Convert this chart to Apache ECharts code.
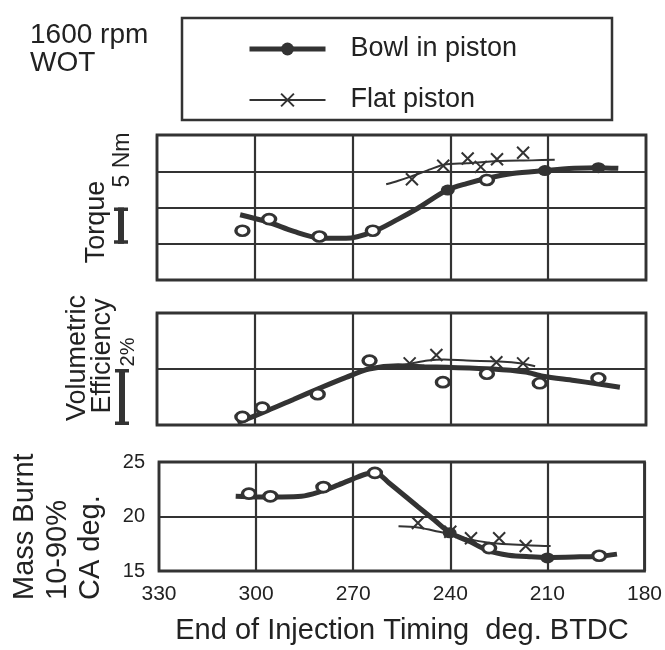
<!DOCTYPE html>
<html>
<head>
<meta charset="utf-8">
<script src="https://cdn.jsdelivr.net/npm/echarts@6/dist/echarts.min.js"></script>
<style>
  html, body { margin: 0; padding: 0; background: #ffffff; }
  #chart { width: 665px; height: 650px; }
</style>
</head>
<body>
<div id="chart"></div>
<script>
// ---------- data ----------
// x: End of injection timing, deg. BTDC
const xTicks = [330, 300, 270, 240, 210, 180];

// Torque panel (Nm, relative; one grid division = 5 Nm)
const torqueTicks = [0, 20];
const torqueBowlCurve = [[304.5, 9.0], [296, 8.0], [288, 6.7], [280, 5.8], [272, 5.75], [264, 6.6], [256, 8.4], [250, 9.9], [241, 12.4], [235, 13.3], [229, 14.0], [221, 14.7], [211, 15.1], [202, 15.4], [195, 15.5], [188.5, 15.4]];
const torqueBowlOpen = [[303.8, 6.8], [295.6, 8.4], [280.2, 6.0], [263.8, 6.8], [228.8, 13.8]];
const torqueBowlFilled = [[240.8, 12.4], [211, 15.1], [194.6, 15.5]];
const torqueFlatCurve = [[259.7, 13.2], [256, 13.7], [252, 14.3], [246, 15.3], [242, 15.9], [235, 16.1], [225, 16.4], [215, 16.5], [208, 16.6]];
const torqueFlatMarks = [[251.8, 13.9], [242.2, 15.75], [234.7, 16.75], [230.7, 15.6], [225.7, 16.65], [217.7, 17.55]];

// Volumetric efficiency panel (%, relative; one grid division = 2 %)
const veTicks = [0, 4];
const veBowlCurve = [[305.3, 0.08], [296, 0.52], [288, 0.92], [280, 1.32], [272, 1.7], [265, 2.0], [256, 2.12], [248, 2.08], [241, 2.06], [227, 2.0], [217, 1.89], [211.6, 1.74], [202, 1.59], [195, 1.47], [188, 1.35]];
const veBowlOpen = [[303.8, 0.29], [297.7, 0.62], [280.7, 1.1], [264.8, 2.3], [242.3, 1.53], [228.8, 1.83], [212.6, 1.49], [194.6, 1.67]];
const veFlatCurve = [[257, 2.1], [252, 2.2], [247, 2.3], [242, 2.34], [235, 2.3], [225, 2.27], [218, 2.2], [214, 2.1]];
const veFlatMarks = [[252.5, 2.2], [244.3, 2.5], [225.9, 2.24], [217.7, 2.2]];

// Mass burnt 10-90 %, CA deg.
const mbTicks = [15, 20, 25];
const mbBowlCurve = [[306.3, 21.85], [300, 21.8], [292, 21.8], [286, 21.85], [280, 22.3], [275, 22.85], [270, 23.45], [266, 23.9], [263, 24.0], [259, 23.1], [250, 20.9], [245, 19.7], [240, 18.5], [234, 17.7], [228.5, 16.9], [222, 16.45], [215, 16.3], [210, 16.25], [200, 16.3], [194, 16.35], [188.5, 16.55]];
const mbBowlOpen = [[302.2, 22.1], [295.6, 21.85], [279.2, 22.7], [263.3, 24.0], [228, 17.1], [194, 16.4]];
const mbBowlFilled = [[240.2, 18.5], [210, 16.2]];
const mbFlatCurve = [[256, 19.1], [250, 19.0], [245, 18.7], [240, 18.4], [234, 17.9], [228, 17.6], [222, 17.45], [215, 17.35], [209, 17.3]];
const mbFlatMarks = [[250, 19.4], [240, 18.6], [233.6, 18.0], [224.9, 18.0], [216.7, 17.3]];

// scale bars drawn beside panels (value span)
const torqueScaleBar = [5, 10];
const veScaleBar = [0, 2];

// ---------- styling ----------
const INK = '#333333';
const TXT = '#222222';
const FONT = "'Liberation Sans', Arial, sans-serif";
const X_PATH = 'path://M0,0L10,10M10,0L0,10';

const chart = echarts.init(document.getElementById('chart'), null, { renderer: 'canvas' });

const grids = [
  { left: 157, top: 135, width: 489, height: 145 },
  { left: 157, top: 313, width: 489, height: 112 },
  { left: 159, top: 462, width: 488, height: 109 }
];

function xAxisFor(i, showLabels) {
  return {
    type: 'value', gridIndex: i, inverse: true,
    min: Math.min(...xTicks), max: Math.max(...xTicks), interval: 30,
    axisLine: { show: false }, axisTick: { show: false },
    splitLine: { show: true, lineStyle: { color: INK, width: 2.2 } },
    axisLabel: showLabels ? {
      show: true, fontSize: 21, color: TXT, fontFamily: FONT, margin: 13
    } : { show: false }
  };
}
function yAxisFor(i, min, max, interval, showLabels) {
  return {
    type: 'value', gridIndex: i, min: min, max: max, interval: interval,
    axisLine: { show: false }, axisTick: { show: false },
    splitLine: { show: true, lineStyle: { color: INK, width: 2.2 } },
    axisLabel: showLabels ? {
      show: true, fontSize: 20, color: TXT, fontFamily: FONT, margin: 14,
      padding: [6, 0, 0, 0]
    } : { show: false }
  };
}

function bowlCurve(i, data) {
  return {
    name: 'Bowl in piston', type: 'line', xAxisIndex: i, yAxisIndex: i,
    data: data, smooth: 0.3, showSymbol: false,
    symbol: 'circle', symbolSize: [16, 11],
    itemStyle: { color: INK },
    lineStyle: { color: INK, width: 5 }, z: 3, silent: true
  };
}
function flatCurve(i, data) {
  return {
    name: 'Flat piston', type: 'line', xAxisIndex: i, yAxisIndex: i,
    data: data, smooth: 0.3, showSymbol: false,
    symbol: X_PATH, symbolSize: 12, symbolKeepAspect: true,
    itemStyle: { color: 'none', borderColor: INK, borderWidth: 2 },
    lineStyle: { color: INK, width: 2 }, z: 4, silent: true
  };
}
function openMarks(i, data) {
  return {
    name: 'bowl-open-' + i, type: 'scatter', xAxisIndex: i, yAxisIndex: i,
    data: data, symbol: 'circle', symbolSize: [13, 10],
    itemStyle: { color: '#ffffff', borderColor: INK, borderWidth: 3, opacity: 1 }, z: 5, silent: true
  };
}
function filledMarks(i, data) {
  return {
    name: 'bowl-filled-' + i, type: 'scatter', xAxisIndex: i, yAxisIndex: i,
    data: data, symbol: 'circle', symbolSize: [14, 11],
    itemStyle: { color: INK, opacity: 1 }, z: 5, silent: true
  };
}
function crossMarks(i, data) {
  return {
    name: 'flat-x-' + i, type: 'scatter', xAxisIndex: i, yAxisIndex: i,
    data: data, symbol: X_PATH, symbolSize: 12, symbolKeepAspect: true,
    itemStyle: { color: 'none', borderColor: INK, borderWidth: 2, opacity: 1 }, z: 6, silent: true
  };
}

chart.setOption({
  animation: false,
  backgroundColor: '#ffffff',
  grid: grids.map(g => Object.assign({ show: true, borderColor: INK, borderWidth: 2.8, backgroundColor: 'transparent' }, g)),
  xAxis: [xAxisFor(0, false), xAxisFor(1, false), xAxisFor(2, true)],
  yAxis: [
    yAxisFor(0, torqueTicks[0], torqueTicks[1], 5, false),
    yAxisFor(1, veTicks[0], veTicks[1], 2, false),
    yAxisFor(2, mbTicks[0], mbTicks[mbTicks.length - 1], 5, true)
  ],
  legend: {
    data: [
      { name: 'Bowl in piston', lineStyle: { width: 5, color: INK }, itemStyle: { color: INK } },
      { name: 'Flat piston', lineStyle: { width: 2, color: INK } }
    ],
    orient: 'vertical', left: 242, top: 28,
    itemWidth: 76, itemHeight: 16, itemGap: 19,
    selectedMode: false,
    textStyle: { fontSize: 27, color: TXT, fontFamily: FONT, lineHeight: 32, padding: [0, 0, 0, 20] }
  },
  series: [
    bowlCurve(0, torqueBowlCurve), flatCurve(0, torqueFlatCurve),
    openMarks(0, torqueBowlOpen), filledMarks(0, torqueBowlFilled), crossMarks(0, torqueFlatMarks),
    bowlCurve(1, veBowlCurve), flatCurve(1, veFlatCurve),
    openMarks(1, veBowlOpen), crossMarks(1, veFlatMarks),
    bowlCurve(2, mbBowlCurve), flatCurve(2, mbFlatCurve),
    openMarks(2, mbBowlOpen), filledMarks(2, mbBowlFilled), crossMarks(2, mbFlatMarks)
  ]
});

// ---------- annotations ----------
function txt(id, text, x, y, size, opts) {
  opts = opts || {};
  return {
    type: 'text', id: id, x: x, y: y, rotation: opts.rot || 0, silent: true,
    style: {
      text: text, fontSize: size, fontFamily: FONT, fill: TXT,
      align: opts.align || 'center', verticalAlign: 'middle',
      textAlign: opts.align || 'center', textVerticalAlign: 'middle'
    }
  };
}
function scaleBar(id, gridIndex, span, xPix) {
  const y1 = chart.convertToPixel({ gridIndex: gridIndex }, [300, span[0]])[1];
  const y2 = chart.convertToPixel({ gridIndex: gridIndex }, [300, span[1]])[1];
  const top = Math.min(y1, y2), bot = Math.max(y1, y2);
  return {
    type: 'group', id: id, silent: true,
    children: [
      { type: 'rect', shape: { x: xPix - 3, y: top, width: 6, height: bot - top }, style: { fill: INK } },
      { type: 'rect', shape: { x: xPix - 7, y: top, width: 14, height: 3.5 }, style: { fill: INK } },
      { type: 'rect', shape: { x: xPix - 7, y: bot - 3.5, width: 14, height: 3.5 }, style: { fill: INK } }
    ]
  };
}
const R = Math.PI / 2;
chart.setOption({
  graphic: [
    { type: 'rect', id: 'legendBox', shape: { x: 182, y: 18, width: 430, height: 102 },
      style: { fill: 'none', stroke: INK, lineWidth: 2.5 }, silent: true },
    txt('t1', '1600 rpm', 30, 35, 28, { align: 'left' }),
    txt('t2', 'WOT', 30, 63, 28, { align: 'left' }),
    txt('torque', 'Torque', 97, 222, 27, { rot: R }),
    txt('nm', '5 Nm', 123, 160, 23, { rot: R }),
    scaleBar('barT', 0, torqueScaleBar, 121),
    txt('vol', 'Volumetric', 78, 358, 27, { rot: R }),
    txt('eff', 'Efficiency', 103, 356, 27, { rot: R }),
    txt('pct', '2%', 128, 352, 20, { rot: R }),
    scaleBar('barV', 1, veScaleBar, 122),
    txt('mb1', 'Mass Burnt', 25, 600, 29, { rot: R, align: 'left' }),
    txt('mb2', '10-90%', 58, 600, 29, { rot: R, align: 'left' }),
    txt('mb3', 'CA deg.', 91, 600, 29, { rot: R, align: 'left' }),
    txt('xt', 'End of Injection Timing  deg. BTDC', 402, 631, 29)
  ]
});
</script>
</body>
</html>
